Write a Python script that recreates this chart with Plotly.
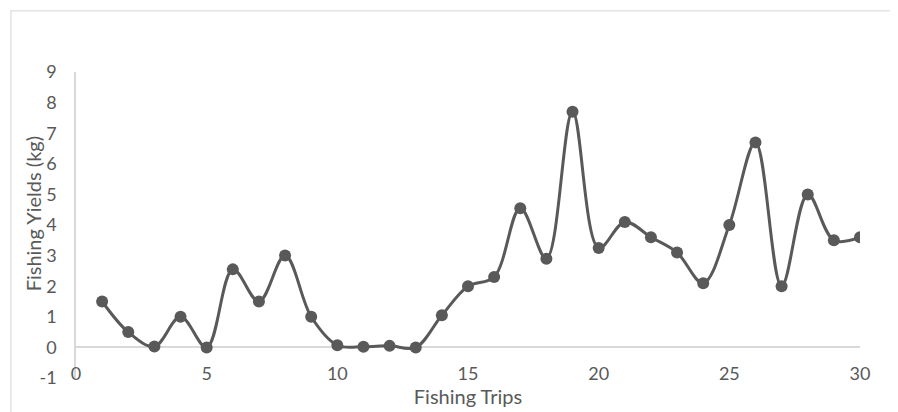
import plotly.graph_objects as go

trips = list(range(1, 31))
yields_kg = [1.5, 0.5, 0.03, 1.0, 0.0, 2.55, 1.5, 3.0, 1.0, 0.07,
             0.02, 0.05, 0.0, 1.05, 2.0, 2.3, 4.55, 2.9, 7.7, 3.25,
             4.1, 3.6, 3.1, 2.1, 4.0, 6.7, 2.0, 5.0, 3.5, 3.6]
x_ticks = [0, 5, 10, 15, 20, 25, 30]
y_ticks = [-1, 0, 1, 2, 3, 4, 5, 6, 7, 8, 9]
y_tick_labels = ["-1", "0", "1", "2", "3", "4", "5", "6", "7", "8", "9"]

GRAY = "#595959"
AXIS = "#d9d9d9"
FONT = "Lato, 'Open Sans', sans-serif"

fig = go.Figure()
fig.add_trace(go.Scatter(
    x=trips, y=yields_kg, mode="lines+markers",
    line=dict(color=GRAY, width=3, shape="spline", smoothing=1.0),
    marker=dict(color=GRAY, size=12),
    showlegend=False, hoverinfo="x+y",
))

fig.update_layout(
    width=890, height=404,
    margin=dict(l=68, r=38, t=64, b=34),
    paper_bgcolor="white", plot_bgcolor="white",
    font=dict(family=FONT, color=GRAY, size=18),
    xaxis=dict(
        range=[0, 30], tickvals=x_ticks, showgrid=False, zeroline=False,
        showline=False, anchor="free", position=0.055, ticks="",
        automargin=False,
        tickfont=dict(size=18, color=GRAY),
        title=dict(text="Fishing Trips", font=dict(size=20, color=GRAY), standoff=2),
    ),
    yaxis=dict(
        range=[-1, 9], tickvals=y_ticks, ticktext=y_tick_labels, showgrid=False,
        zeroline=True, zerolinecolor=AXIS, zerolinewidth=1.5,
        showline=True, linecolor=AXIS, linewidth=1.5,
        ticks="outside", ticklen=14, tickcolor="rgba(0,0,0,0)",
        automargin=False,
        tickfont=dict(size=18, color=GRAY),
    ),
    annotations=[dict(text="Fishing Yields (kg)", textangle=-90,
                      xref="paper", yref="paper", x=-0.0548, y=0.535,
                      xanchor="center", yanchor="middle", showarrow=False,
                      font=dict(size=20, color=GRAY))],
    shapes=[dict(type="rect", xref="paper", yref="paper",
                 x0=-0.083, x1=1.2, y0=-0.3, y1=1.2,
                 line=dict(color="#e3e3e3", width=1.5), layer="below")],
)

fig.write_html("out.html")
